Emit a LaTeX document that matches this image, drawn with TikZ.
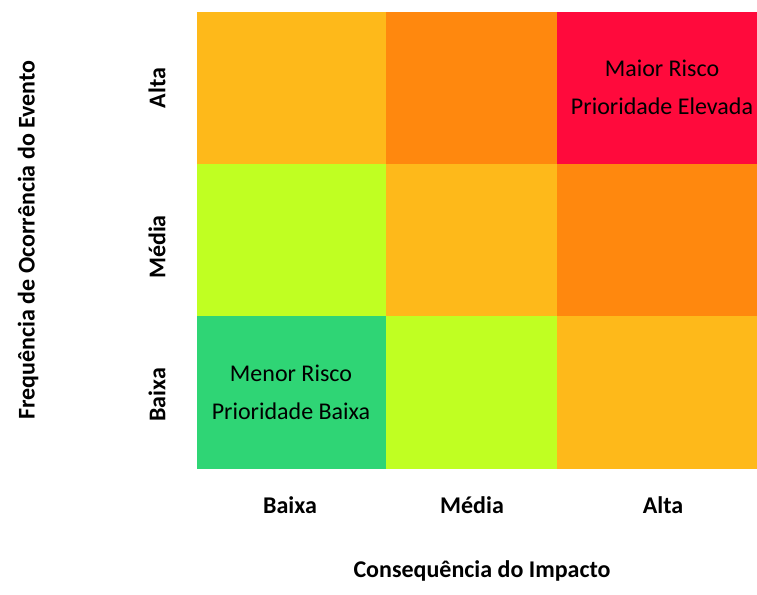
\documentclass[tikz,border=0pt]{standalone}
\usepackage{fontspec}
\setmainfont{Carlito}
\definecolor{cYel}{RGB}{254,185,26}
\definecolor{cOra}{RGB}{255,136,14}
\definecolor{cRed}{RGB}{255,10,60}
\definecolor{cLim}{RGB}{192,255,34}
\definecolor{cGrn}{RGB}{47,213,117}
\tikzset{
  cell/.style={inner sep=0pt, outer sep=0pt},
  celltxt/.style={font=\fontsize{24}{38}\selectfont, align=center, text=black},
  axlab/.style={font=\fontsize{24}{28}\selectfont\bfseries},
}
\begin{document}
\begin{tikzpicture}[x=1pt,y=-1pt]
\useasboundingbox (0,0) rectangle (757,594);
% cells
\fill[cYel] (197,12) rectangle (386,164);
\fill[cOra] (386,12) rectangle (557,164);
\fill[cRed] (557,12) rectangle (757,164);
\fill[cLim] (197,164) rectangle (386,316);
\fill[cYel] (386,164) rectangle (557,316);
\fill[cOra] (557,164) rectangle (757,316);
\fill[cGrn] (197,316) rectangle (386,469);
\fill[cLim] (386,316) rectangle (557,469);
\fill[cYel] (557,316) rectangle (757,469);
\node[celltxt] (maior) at (662,87) {Maior Risco\\Prioridade Elevada};
\node[celltxt] (menor) at (291,392) {Menor Risco\\Prioridade Baixa};
% x axis
\node[axlab] (xb) at (290,505) {Baixa};
\node[axlab] (xm) at (472,505) {Média};
\node[axlab] (xa) at (663,505) {Alta};
\node[axlab] (xt) at (482,571) {Consequência do Impacto};
% y axis
\node[axlab, rotate=90] (ya) at (157,88) {Alta};
\node[axlab, rotate=90] (ym) at (157,247) {Média};
\node[axlab, rotate=90] (yb) at (157,395) {Baixa};
\node[axlab, rotate=90] (yt) at (28,240) {Frequência de Ocorrência do Evento};
\end{tikzpicture}
\end{document}
